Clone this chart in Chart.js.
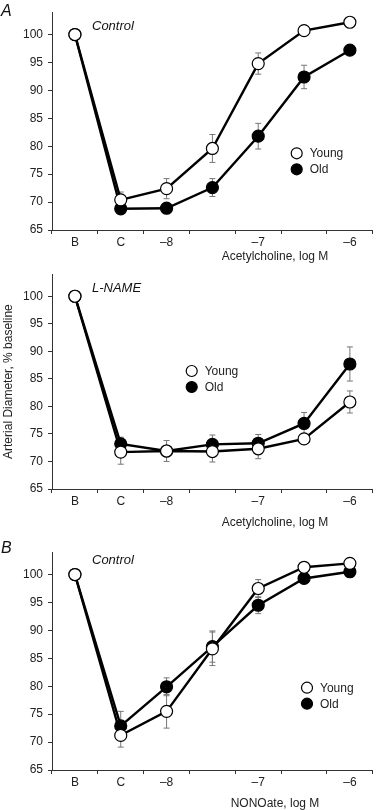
<!DOCTYPE html>
<html>
<head>
<meta charset="utf-8">
<script src="https://cdn.jsdelivr.net/npm/chart.js@4.4.1/dist/chart.umd.min.js"></script>
<style>
  body { margin: 0; background: #fff; }
  #wrap { position: relative; width: 380px; height: 810px; overflow: hidden; }
  canvas { position: absolute; left: 0; }
</style>
</head>
<body>
<div id="wrap">
  <canvas id="panelA" width="380" height="268" style="top:0px"></canvas>
  <canvas id="panelL" width="380" height="275" style="top:262px"></canvas>
  <canvas id="panelB" width="380" height="270" style="top:540px"></canvas>
</div>
<script>
// x categories (B = baseline, C = constricted, then log M doses)
const doseLabels = ['B', 'C', '\u20138', '', '\u20137', '', '\u20136'];
const yTicks = [65, 70, 75, 80, 85, 90, 95, 100];

// A: acetylcholine, control
const youngAch = [100, 70.4, 72.4, 79.6, 94.8, 100.7, 102.2];
const youngAchErr = [0, 1.4, 1.8, 2.5, 1.9, 0, 0];
const oldAch = [100, 68.8, 68.9, 72.6, 81.8, 92.4, 97.2];
const oldAchErr = [0, 0, 0, 1.6, 2.3, 2.1, 0];

// acetylcholine + L-NAME
const youngLname = [100, 71.7, 71.9, 71.8, 72.3, 74.1, 80.8];
const youngLnameErr = [0, 2.2, 1.9, 1.9, 1.8, 0.7, 2.0];
const oldLname = [100, 73.2, 71.9, 73.1, 73.3, 76.9, 87.7];
const oldLnameErr = [0, 1.2, 0, 1.7, 1.6, 2.0, 3.1];

// B: NONOate, control
const youngNono = [100, 71.2, 75.5, 86.7, 97.5, 101.3, 102.0];
const youngNonoErr = [0, 2.1, 3.0, 3.0, 1.6, 0, 0];
const oldNono = [100, 72.9, 79.9, 87.1, 94.5, 99.3, 100.5];
const oldNonoErr = [0, 2.6, 1.6, 2.8, 1.5, 0, 0];

Chart.defaults.font.family = "'Liberation Sans', Arial, Helvetica, sans-serif";
Chart.defaults.font.size = 12;
Chart.defaults.color = '#222';

// error bars + extra labels
const extras = {
  id: 'extras',
  beforeDatasetsDraw(chart) {
    const ctx = chart.ctx;
    const ys = chart.scales.y;
    ctx.save();
    ctx.strokeStyle = '#777';
    ctx.lineWidth = 1;
    chart.data.datasets.forEach((ds, i) => {
      if (!ds.errors) return;
      chart.getDatasetMeta(i).data.forEach((pt, j) => {
        const e = ds.errors[j];
        if (!e) return;
        const y1 = ys.getPixelForValue(ds.data[j] + e);
        const y2 = ys.getPixelForValue(ds.data[j] - e);
        ctx.beginPath();
        ctx.moveTo(pt.x, y1); ctx.lineTo(pt.x, y2);
        ctx.moveTo(pt.x - 3, y1); ctx.lineTo(pt.x + 3, y1);
        ctx.moveTo(pt.x - 3, y2); ctx.lineTo(pt.x + 3, y2);
        ctx.stroke();
      });
    });
    ctx.restore();
  },
  afterDraw(chart, args, opts) {
    const ctx = chart.ctx;
    const area = chart.chartArea;
    ctx.save();
    ctx.fillStyle = '#111';
    ctx.textBaseline = 'middle';
    if (opts.letter) {
      ctx.font = "italic 16px 'Liberation Sans', Arial, sans-serif";
      ctx.textAlign = 'left';
      ctx.fillText(opts.letter, 1, opts.letterY);
    }
    ctx.font = "italic 13px 'Liberation Sans', Arial, sans-serif";
    ctx.textAlign = 'left';
    ctx.fillText(opts.condition, 92, opts.conditionY);

    ctx.font = "12px 'Liberation Sans', Arial, sans-serif";
    ctx.textAlign = 'center';
    ctx.fillStyle = '#222';
    ctx.fillText(opts.xTitle, 275, area.bottom + opts.xTitleOffset);

    // legend
    const lg = opts.legend;
    chart.data.datasets.forEach((ds, i) => {
      const cy = lg.y + i * 16;
      ctx.beginPath();
      ctx.arc(lg.x, cy, 5.5, 0, Math.PI * 2);
      ctx.fillStyle = ds.pointBackgroundColor;
      ctx.fill();
      ctx.lineWidth = 1.2;
      ctx.strokeStyle = '#000';
      ctx.stroke();
      ctx.fillStyle = '#222';
      ctx.textAlign = 'left';
      ctx.fillText(ds.label, lg.x + 13, cy + 0.5);
    });
    ctx.restore();
  }
};

function makePanel(id, young, youngErr, old, oldErr, padTop, xAxisH, panelOpts, yTitle) {
  return new Chart(document.getElementById(id), {
    type: 'line',
    data: {
      labels: doseLabels,
      datasets: [{
        label: 'Young',
        data: young,
        errors: youngErr,
        borderColor: '#000',
        borderWidth: 2.4,
        pointRadius: 6,
        pointBorderWidth: 1.2,
        pointBorderColor: '#000',
        pointBackgroundColor: '#fff',
        tension: 0,
        clip: false
      }, {
        label: 'Old',
        data: old,
        errors: oldErr,
        borderColor: '#000',
        borderWidth: 2.4,
        pointRadius: 6,
        pointBorderWidth: 1.2,
        pointBorderColor: '#000',
        pointBackgroundColor: '#000',
        tension: 0,
        clip: false
      }]
    },
    options: {
      responsive: false,
      animation: false,
      events: [],
      layout: { padding: { top: padTop, right: 2, left: 0, bottom: 0 } },
      plugins: {
        legend: { display: false },
        tooltip: { enabled: false },
        extras: panelOpts
      },
      scales: {
        x: {
          type: 'category',
          offset: true,
          afterFit: (s) => { s.height = xAxisH; },
          grid: { display: true, offset: true, drawOnChartArea: false, drawTicks: true, tickLength: 4, color: '#333' },
          border: { display: true, color: '#333', width: 1 },
          ticks: { padding: 1, autoSkip: false, maxRotation: 0, color: '#222' }
        },
        y: {
          min: 65,
          max: 104,
          afterFit: (s) => { s.width = 52; },
          afterBuildTicks: (s) => { s.ticks = yTicks.map(v => ({ value: v })); },
          grid: { display: true, drawOnChartArea: false, drawTicks: true, tickLength: 4, color: '#333' },
          border: { display: true, color: '#333', width: 1 },
          ticks: { padding: 5, color: '#222' },
          title: {
            display: !!yTitle,
            text: yTitle || '',
            color: '#222',
            font: { size: 12 },
            padding: { top: 1, bottom: 0 }
          }
        }
      }
    },
    plugins: [extras]
  });
}

makePanel('panelA', youngAch, youngAchErr, oldAch, oldAchErr, 3.5, 38, {
  letter: 'A', letterY: 11.5,
  condition: 'Control', conditionY: 26.7,
  xTitle: 'Acetylcholine, log M', xTitleOffset: 27,
  legend: { x: 296.7, y: 153.3 }
});

makePanel('panelL', youngLname, youngLnameErr, oldLname, oldLnameErr, 3.3, 48, {
  condition: 'L-NAME', conditionY: 26.3,
  xTitle: 'Acetylcholine, log M', xTitleOffset: 34,
  legend: { x: 191.7, y: 109 }
}, 'Arterial Diameter, % baseline');

makePanel('panelB', youngNono, youngNonoErr, oldNono, oldNonoErr, 7.5, 40, {
  letter: 'B', letterY: 9,
  condition: 'Control', conditionY: 20.7,
  xTitle: 'NONOate, log M', xTitleOffset: 33.5,
  legend: { x: 307, y: 147.7 }
});
</script>
</body>
</html>
